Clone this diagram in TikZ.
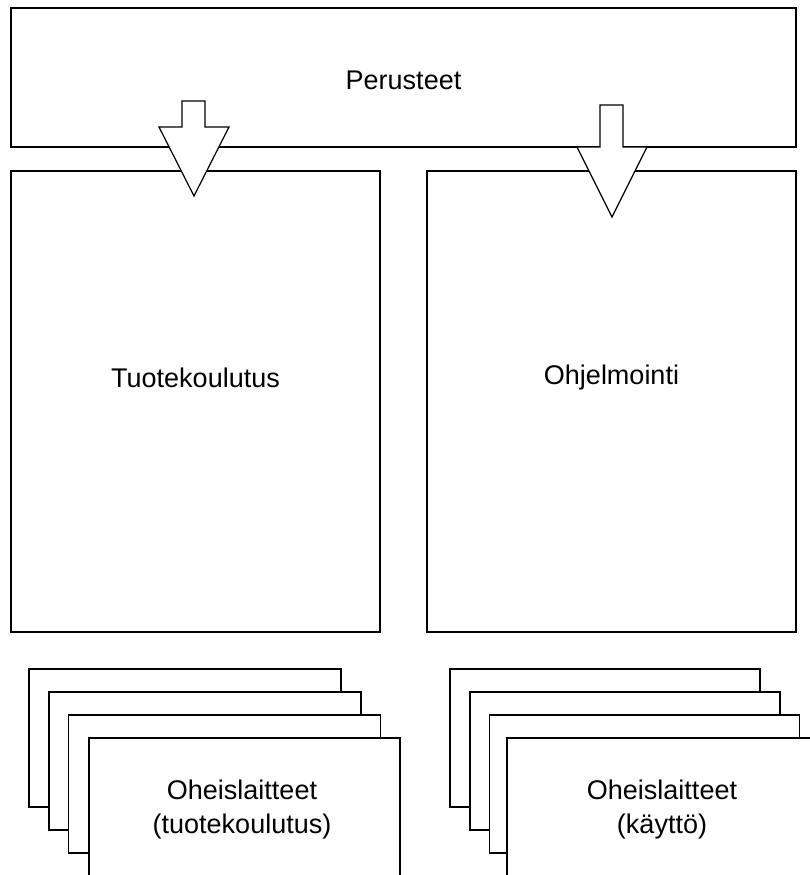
\documentclass[tikz,border=0pt]{standalone}
\usepackage{fontspec}
\setmainfont{Liberation Sans}
\begin{document}
\begin{tikzpicture}[x=1pt,y=-1pt,
  box/.style={draw,line width=1.4pt,fill=white,inner sep=0pt},
  lbl/.style={font=\fontsize{27}{34}\selectfont, align=center},
  bigarrow/.style={draw,line width=1.2pt,fill=white,line join=miter}]
\useasboundingbox (0,0) rectangle (810,875);
\clip (0,0) rectangle (810,875);
% top box
\node[box, minimum width=785pt, minimum height=139pt] (top) at (403.5,77.5) {};
\node[lbl] (topt) at (403.5,80) {Perusteet};
% middle boxes
\node[box, minimum width=369pt, minimum height=461pt] (left) at (195.5,401.5) {};
\node[lbl] (leftt) at (195.5,378) {Tuotekoulutus};
\node[box, minimum width=369pt, minimum height=461pt] (right) at (611.5,401.5) {};
\node[lbl] (rightt) at (611.5,378) {Ohjelmointi};
% arrows
\draw[bigarrow] (182,101) -- (205,101) -- (205,127) -- (229,127) -- (194,196) -- (159,127) -- (182,127) -- cycle;
\draw[bigarrow] (600,105) -- (623,105) -- (623,147) -- (647,147) -- (612,217) -- (577,147) -- (600,147) -- cycle;
% left stack
\node[box, minimum width=312pt, minimum height=138pt] (l1) at (185,738) {};
\node[box, minimum width=312pt, minimum height=138pt] (l2) at (205,761) {};
\node[box, minimum width=312pt, minimum height=138pt] (l3) at (224.5,784) {};
\node[box, minimum width=311pt, minimum height=140pt] (l4) at (244.5,808) {};
\node[lbl] (l4t) at (242,810) {Oheislaitteet\\(tuotekoulutus)};
% right stack
\node[box, minimum width=310pt, minimum height=138pt] (r1) at (605,738) {};
\node[box, minimum width=310pt, minimum height=138pt] (r2) at (625,761) {};
\node[box, minimum width=310pt, minimum height=138pt] (r3) at (644.5,784) {};
\node[box, minimum width=310pt, minimum height=140pt] (r4) at (662,808) {};
\node[lbl] (r4t) at (662,810) {Oheislaitteet\\(käyttö)};
\end{tikzpicture}
\end{document}
